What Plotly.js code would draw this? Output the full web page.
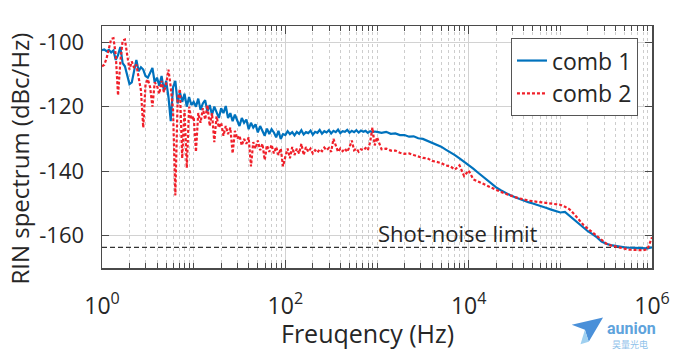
<!DOCTYPE html>
<html>
<head>
<meta charset="utf-8">
<script src="https://cdn.plot.ly/plotly-3.0.1.min.js"></script>
<style>
  html, body { margin: 0; padding: 0; background: #ffffff; }
  #chart { width: 680px; height: 351px; }
</style>
</head>
<body>
<div id="chart"></div>
<script>
// ---------------- data ----------------
const freqDec0 = [1.000,1.059,1.122,1.189,1.259,1.334,1.413,1.496,1.585,1.679,1.778,1.884,1.995,2.113,2.239,2.371,2.512,2.661,2.818,2.985,3.162,3.350,3.548,3.758,3.981,4.217,4.467,4.732,5.012,5.309,5.623,5.957,6.310,6.683,7.079,7.499,7.943,8.414,8.913,9.441];
const freqDec1 = [10.00,10.59,11.22,11.89,12.59,13.34,14.13,14.96,15.85,16.79,17.78,18.84,19.95,21.13,22.39,23.71,25.12,26.61,28.18,29.85,31.62,33.50,35.48,37.58,39.81,42.17,44.67,47.32,50.12,53.09,56.23,59.57,63.10,66.83,70.79,74.99,79.43,84.14,89.13,94.41];
const freqDec2 = [100.0,105.9,112.2,118.9,125.9,133.4,141.3,149.6,158.5,167.9,177.8,188.4,199.5,211.3,223.9,237.1,251.2,266.1,281.8,298.5,316.2,335.0,354.8,375.8,398.1,421.7,446.7,473.2,501.2,530.9,562.3,595.7,631.0,668.3,707.9,749.9,794.3,841.4,891.3,944.1];
const freqHigh = [1000,1122,1259,1413,1585,1778,1995,2239,2512,2818,3162,3548,3981,4467,5012,5623,6310,7079,7943,8913,10000,11220,12590,14130,15850,17780,19950,22390,25120,28180,31620,35480,39810,44670,50120,56230,63100,70790,79430,89130,100000,112200,125900,141300,158500,177800,199500,223900,251200,281800,316200,354800,398100,446700,501200,562300,631000,707900,794300,891300,1000000];

const comb1Dec0 = [-102.5,-102.3,-102.8,-102.4,-103.2,-102.6,-105.5,-104,-101.5,-106.5,-107.5,-110,-113,-112.5,-108.5,-105.5,-109,-107.8,-108.5,-110.5,-111,-109.5,-108,-112.5,-111,-113.5,-110.5,-115,-112,-117,-124.5,-114,-112,-119,-115.5,-118.5,-116,-120,-117,-119.5];
const comb1Dec1 = [-118.5,-120,-117.5,-121,-119,-118,-121.5,-119.5,-122.5,-120,-121.5,-123.5,-120.5,-122,-119.8,-123.5,-122,-124.5,-122.5,-124,-126,-123.5,-125,-124,-127,-125,-126.5,-125.5,-128,-126,-127.5,-129,-126.8,-128.5,-127,-128,-129.5,-127.5,-130,-128.5];
const comb1Dec2 = [-128.8,-127.6,-128.5,-127.9,-128.9,-127.8,-128.4,-127.3,-128.6,-127.9,-128.2,-127.4,-128.7,-127.8,-128.1,-127.2,-128.4,-127.6,-128.0,-127.3,-128.3,-127.5,-127.9,-127.1,-128.2,-127.6,-127.8,-127.2,-128.1,-127.5,-127.9,-127.3,-128.0,-127.4,-127.8,-127.5,-128.1,-127.6,-127.9,-127.7];
const comb1High = [-127.8,-128.1,-127.8,-128.4,-128.3,-128.8,-128.8,-129.3,-129.2,-129.8,-130.0,-130.6,-131.0,-131.8,-132.4,-133.3,-134.1,-135.0,-136.0,-137.0,
                   -138.0,-139.2,-140.4,-141.6,-142.8,-144.0,-145.0,-145.9,-146.7,-147.4,-148.0,-148.6,-149.1,-149.6,-150.0,-150.4,-150.9,-151.4,-151.9,-152.3,
                   -152.8,-152.6,-153.8,-155.1,-156.4,-157.6,-158.6,-159.5,-160.5,-161.8,-162.5,-162.9,-163.2,-163.4,-163.6,-163.7,-163.8,-163.9,-164.0,-163.9,
                   -163.6];

const comb2Dec0 = [-107.5,-107,-105,-101.5,-99,-98.8,-104,-116.5,-106,-99.5,-99.2,-104,-108.5,-106,-108,-107,-110.5,-115,-126.5,-113,-111.5,-114,-120,-112.5,-113.5,-116,-112,-115.5,-113,-108.5,-114,-121,-147.5,-118,-114.5,-136,-121,-139,-120,-124];
const comb2Dec1 = [-123,-134,-122,-125,-120.5,-124,-119.5,-126,-122,-131,-123,-126.5,-125,-129,-126,-128.5,-126.5,-134.5,-127.5,-130,-129,-132,-130,-131.5,-129.5,-138.5,-131,-133,-130.5,-133.5,-131.5,-136.5,-132,-134,-131.8,-134.5,-132.5,-135,-133,-138.5];
const comb2Dec2 = [-135.5,-133,-136,-132.5,-135,-133,-134.5,-131.5,-135,-132.5,-134,-133,-134.5,-133.5,-134.2,-133.2,-133.8,-132.7,-133.5,-132.8,-134,-130,-132,-134,-133,-133.8,-133,-134,-132.5,-130.5,-133.5,-133,-134,-133.2,-133.5,-132.8,-133.5,-131,-126.5,-132];
const comb2High = [-129.5,-133.2,-133.0,-133.6,-133.6,-134.3,-134.6,-134.5,-135.0,-135.4,-135.9,-136.0,-136.8,-137.1,-137.5,-138.2,-138.5,-139.5,-138.2,-141.5,
                   -139.8,-142.5,-143.2,-143.9,-144.5,-145.2,-145.8,-146.4,-147.0,-147.5,-148.0,-148.4,-148.8,-149.1,-149.3,-149.5,-149.6,-149.8,-149.9,-150.1,
                   -150.4,-151.0,-151.8,-153.3,-155.0,-156.6,-157.8,-159.0,-160.2,-161.5,-162.4,-163.0,-163.4,-163.8,-164.0,-164.3,-164.4,-164.4,-164.5,-164.2,
                   -160.5];

const shotNoiseFreq = [1, 1000000];
const shotNoiseLevel = [-163.6, -163.6];

const seriesNames = ['comb 1', 'comb 2'];
const xTickVals = [1, 100, 10000, 1000000];
const xTickText = ['10<sup>0</sup>', '10<sup>2</sup>', '10<sup>4</sup>', '10<sup>6</sup>'];
const yTickVals = [-160, -140, -120, -100];
const yTickText = ['-160', '-140', '-120', '-100'];
const shotNoiseLabel = 'Shot-noise limit';
const xTitle = 'Freuqency (Hz)';
const yTitle = 'RIN spectrum (dBc/Hz)';

// ---------------- assembly ----------------
const freq = freqDec0.concat(freqDec1, freqDec2, freqHigh);
const comb1 = comb1Dec0.concat(comb1Dec1, comb1Dec2, comb1High);
const comb2 = comb2Dec0.concat(comb2Dec1, comb2Dec2, comb2High);

const minorVals = [];
for (let d = 0; d < 6; d++) {
  for (let m = 1; m <= 9; m++) {
    if (m === 1 && d % 2 === 0) continue;
    minorVals.push(m * Math.pow(10, d));
  }
}

const FONT = '"Open Sans", "Noto Sans", sans-serif';
const TXT = '#262626';
const AX = '#4a4a4a';

const traces = [
  {
    x: shotNoiseFreq, y: shotNoiseLevel, type: 'scatter', mode: 'lines',
    line: { color: '#333333', width: 1.2, dash: '5px,3px' },
    showlegend: false, hoverinfo: 'skip'
  },
  {
    x: freq, y: comb1, type: 'scatter', mode: 'lines', name: seriesNames[0],
    line: { color: '#0072BD', width: 2.2 }, legendgroup: 'a'
  },
  {
    x: freq, y: comb2, type: 'scatter', mode: 'lines', name: seriesNames[1],
    line: { color: '#f0202a', width: 2.2, dash: '3px,2px' }, legendgroup: 'b'
  }
];

const layout = {
  width: 680, height: 351,
  margin: { l: 102, r: 28, t: 26, b: 83 },
  paper_bgcolor: '#ffffff', plot_bgcolor: '#ffffff',
  font: { family: FONT, color: TXT, size: 22 },
  showlegend: true,
  legend: {
    x: 0.9745, y: 0.95, xanchor: 'right', yanchor: 'top',
    bgcolor: '#ffffff', bordercolor: '#555555', borderwidth: 1,
    font: { family: FONT, size: 23, color: TXT },
    tracegroupgap: 3, traceorder: 'normal'
  },
  xaxis: {
    type: 'log', range: [0, 6],
    tickmode: 'array', tickvals: xTickVals, ticktext: xTickText,
    ticks: 'inside', ticklen: 8, tickwidth: 1, tickcolor: AX,
    showline: true, linecolor: AX, linewidth: 1.5, mirror: 'ticks',
    showgrid: true, gridcolor: '#d2d2d2', gridwidth: 1, zeroline: false,
    tickfont: { family: FONT, size: 23, color: TXT },
    ticklabelstandoff: 17,
    minor: {
      tickmode: 'array', tickvals: minorVals,
      ticks: 'inside', ticklen: 5, tickcolor: AX, tickwidth: 1,
      showgrid: true, gridcolor: '#cdcdcd', griddash: 'dot', gridwidth: 1
    }
  },
  yaxis: {
    range: [-170, -95],
    tickmode: 'array', tickvals: yTickVals, ticktext: yTickText,
    ticks: 'inside', ticklen: 7, tickwidth: 1, tickcolor: AX,
    showline: true, linecolor: AX, linewidth: 1.5, mirror: 'ticks',
    showgrid: true, gridcolor: '#d2d2d2', gridwidth: 1, zeroline: false,
    tickfont: { family: FONT, size: 22, color: TXT },
    ticklabelstandoff: 12
  },
  annotations: [
    {
      x: -0.15, y: 0.45, xref: 'paper', yref: 'paper', text: yTitle, textangle: -90,
      showarrow: false, xanchor: 'center', yanchor: 'middle',
      font: { family: FONT, size: 24, color: TXT }
    },
    {
      x: 0.482, y: -0.27, xref: 'paper', yref: 'paper', text: xTitle,
      showarrow: false, xanchor: 'center', yanchor: 'middle',
      font: { family: FONT, size: 25, color: TXT }
    },
    {
      x: 3.884, y: -159.3, xref: 'x', yref: 'y', text: shotNoiseLabel,
      showarrow: false, xanchor: 'center', yanchor: 'middle',
      font: { family: FONT, size: 22, color: TXT }
    },
    {
      x: 0.962, y: -0.252, xref: 'paper', yref: 'paper', text: '<b>aunion</b>',
      showarrow: false, xanchor: 'center', yanchor: 'middle',
      font: { family: 'Roboto, sans-serif', size: 16, color: '#5fa3dc' }
    },
    {
      x: 0.96, y: -0.318, xref: 'paper', yref: 'paper', text: '昊量光电',
      showarrow: false, xanchor: 'center', yanchor: 'middle',
      font: { family: '"Noto Sans CJK SC", sans-serif', size: 9, color: '#8fc2ea' }
    }
  ],
  shapes: [
    {
      type: 'path', xref: 'paper', yref: 'paper', layer: 'above',
      path: 'M 0.854 -0.235 L 0.911 -0.205 L 0.885 -0.305 L 0.878 -0.255 Z',
      fillcolor: '#4a90d9', line: { width: 0 }
    },
    {
      type: 'path', xref: 'paper', yref: 'paper', layer: 'above',
      path: 'M 0.878 -0.255 L 0.885 -0.305 L 0.87 -0.315 Z',
      fillcolor: '#9fd0f0', line: { width: 0 }
    }
  ]
};

Plotly.newPlot('chart', traces, layout, { displayModeBar: false, staticPlot: true });
</script>
</body>
</html>
